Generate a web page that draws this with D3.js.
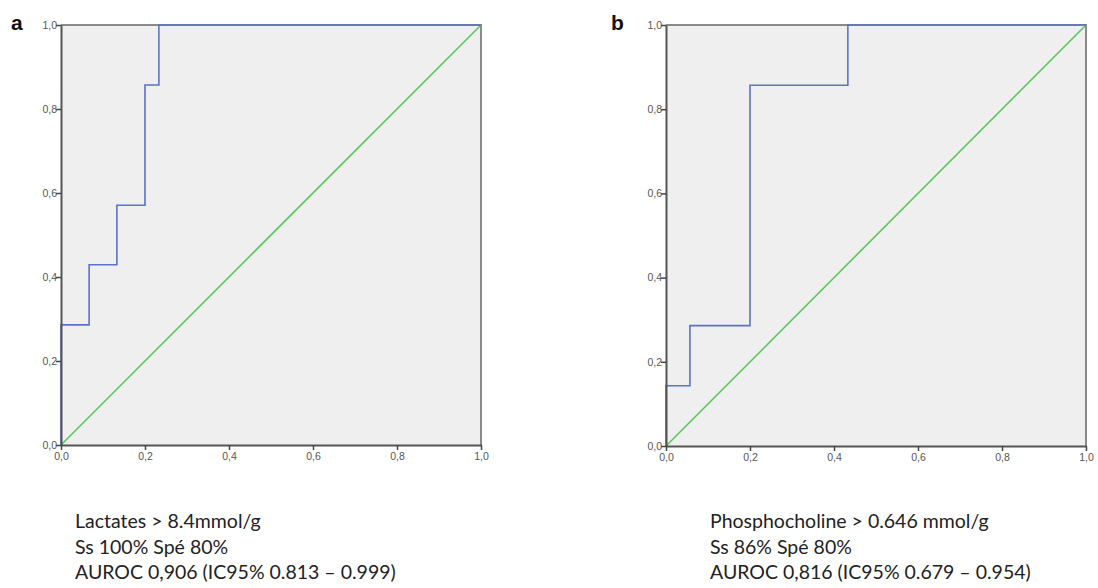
<!DOCTYPE html>
<html><head><meta charset="utf-8">
<script src="https://d3js.org/d3.v7.min.js"></script>
<style>body{margin:0;background:#fff}svg{display:block}</style>
</head><body>
<svg id="c" width="1098" height="588"></svg>
<script>
// Panel a: ROC curve (1 - specificity, sensitivity)
const rocA_fpr = [0, 0, 0.067, 0.067, 0.133, 0.133, 0.2, 0.2, 0.233, 0.233, 1.0];
const rocA_tpr = [0, 0.286, 0.286, 0.429, 0.429, 0.571, 0.571, 0.857, 0.857, 1.0, 1.0];
// Panel b
const rocB_fpr = [0, 0, 0.057, 0.057, 0.2, 0.2, 0.433, 0.433, 1.0];
const rocB_tpr = [0, 0.143, 0.143, 0.286, 0.286, 0.857, 0.857, 1.0, 1.0];
const refLine = [0, 1];
const tickValues = [0, 0.2, 0.4, 0.6, 0.8, 1.0];
const labelsA = ["Lactates > 8.4mmol/g", "Ss 100% Spé 80%", "AUROC 0,906 (IC95% 0.813 \u2013 0.999)"];
const labelsB = ["Phosphocholine > 0.646 mmol/g", "Ss 86% Spé 80%", "AUROC 0,816 (IC95% 0.679 \u2013 0.954)"];
const panelLetters = ["a", "b"];

const svg = d3.select("#c");
const fmt = d => d3.format(".1f")(d).replace(".", ",");

function panel(cfg) {
  const {x0, x1, y0, y1, fpr, tpr, letter, labels, tx, letterX} = cfg;
  const x = d3.scaleLinear().domain([0, 1]).range([x0, x1]);
  const y = d3.scaleLinear().domain([0, 1]).range([y1, y0]);
  const g = svg.append("g");
  g.append("rect").attr("x", x0).attr("y", y0).attr("width", x1 - x0).attr("height", y1 - y0)
    .attr("fill", "#efefef");
  g.append("path").attr("d", `M${x0},${y0}H${x1}V${y1}`).attr("fill", "none")
    .attr("stroke", "#8a8a8a").attr("stroke-width", 2);
  g.append("line").attr("x1", x(refLine[0])).attr("y1", y(refLine[0]))
    .attr("x2", x(refLine[1])).attr("y2", y(refLine[1]))
    .attr("stroke", "#5cc65c").attr("stroke-width", 1.6);
  const pts = fpr.map((f, i) => [f, tpr[i]]);
  g.append("path").datum(pts).attr("d", d3.line().x(d => x(d[0])).y(d => y(d[1])))
    .attr("fill", "none").attr("stroke", "#5d72c4").attr("stroke-width", 1.6);
  const ax = g.append("g").attr("transform", `translate(0,${y1})`)
    .call(d3.axisBottom(x).tickValues(tickValues).tickFormat(fmt).tickSize(5).tickSizeOuter(0));
  const ay = g.append("g").attr("transform", `translate(${x0},0)`)
    .call(d3.axisLeft(y).tickValues(tickValues).tickFormat(fmt).tickSize(5).tickSizeOuter(0));
  [ax, ay].forEach(a => {
    a.select(".domain").attr("stroke", "#555").attr("stroke-width", 2);
    a.selectAll(".tick line").attr("stroke", "#444").attr("stroke-width", 1.5);
    a.selectAll(".tick text").attr("fill", "#555").attr("font-family", "Arial, 'Liberation Sans', sans-serif")
      .attr("font-size", 10.5);
  });
  ax.selectAll(".tick text").attr("dy", "0.95em").attr("y", 5);
  ay.selectAll(".tick text").attr("x", -4).attr("dy", "0.32em");
  svg.append("text").attr("x", letterX).attr("y", 30).text(letter)
    .attr("font-family", "Arial, 'Liberation Sans', sans-serif").attr("font-weight", "bold")
    .attr("font-size", 21).attr("fill", "#111");
  svg.append("g").selectAll("text").data(labels).join("text")
    .attr("x", tx).attr("y", (d, i) => 528 + i * 25.5).text(d => d)
    .attr("font-family", "Lato, 'Open Sans', sans-serif").attr("font-size", 19.5).attr("fill", "#222");
}

panel({x0: 61, x1: 481, y0: 25, y1: 445, fpr: rocA_fpr, tpr: rocA_tpr, letter: panelLetters[0],
  labels: labelsA, tx: 75, letterX: 11});
panel({x0: 666, x1: 1086, y0: 25, y1: 446, fpr: rocB_fpr, tpr: rocB_tpr, letter: panelLetters[1],
  labels: labelsB, tx: 710, letterX: 611});
</script>
</body></html>
